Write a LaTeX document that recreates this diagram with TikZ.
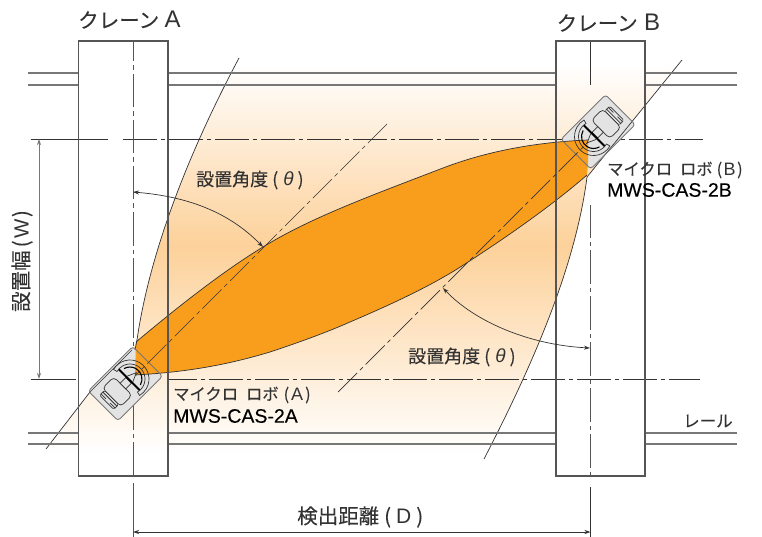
\documentclass[tikz,border=0pt]{standalone}
\usepackage{fontspec}
\setmainfont{Liberation Sans}
\newfontfamily\jp[FakeBold=0.12]{Noto Sans CJK JP}
\newfontfamily\med[FakeBold=0.25]{Liberation Sans}
\usetikzlibrary{arrows.meta}
\definecolor{beamorange}{HTML}{F99D1C}
\definecolor{beamlight}{HTML}{FDD19A}
\definecolor{inkdark}{HTML}{333333}
\definecolor{inkgrey}{HTML}{555555}
\definecolor{railgrey}{HTML}{777777}
\definecolor{plategrey}{HTML}{E3E3E3}
\tikzset{
  craneedge/.style={draw=inkgrey,line width=1.1pt},
  rail/.style={draw=railgrey,line width=1.3pt},
  hcenter/.style={draw=inkdark,line width=0.8pt,dash pattern=on 33.5pt off 4pt on 4.5pt off 4pt},
  vcenter/.style={draw=inkgrey,line width=1pt,dash pattern=on 33.5pt off 4pt on 4.5pt off 4pt,dash phase=13pt},
  diagcenter/.style={draw=inkdark,line width=0.7pt,dash pattern=on 27pt off 4pt on 4pt off 4pt},
  beamedge/.style={draw=inkdark,line width=0.7pt},
  dimline/.style={draw=inkdark,line width=0.8pt,{Stealth[length=6pt,width=4pt]}-{Stealth[length=6pt,width=4pt]}},
  anglearc/.style={draw=inkdark,line width=0.7pt,{Stealth[length=6pt,width=4pt]}-{Stealth[length=6pt,width=4pt]}},
  plateface/.style={fill=plategrey,rounded corners=3pt},
  plateedge/.style={draw=railgrey,line width=0.9pt,rounded corners=3pt},
  part/.style={draw=inkdark,line width=0.7pt,fill=plategrey},
  label/.style={inner sep=0pt,text=inkdark,anchor=west},
}
\newcommand\sensorplate{(-38,-21) rectangle (25,21)}
\newcommand\sensordetail{%
  \draw[part,rounded corners=4pt] (-26,-13) rectangle (-10,13);
  \draw[part,rounded corners=1.5pt] (-33,-10) rectangle (-26,10);
  \draw[inkdark,line width=0.8pt] (-28.5,-10) -- (-28.5,10) (-31,-10) -- (-31,-3) (-31,3) -- (-31,10);
  \draw[part] (-10,-4) rectangle (-2,4);
  \draw[black,line width=2pt] (-1,-15) -- (-1,15);
  \draw[inkdark,line width=0.7pt] (0,-4) -- (9,0) -- (0,4);
  \draw[black,line width=1.1pt] ({12*cos(75)},{-12*sin(75)}) arc[start angle=-75,end angle=75,radius=12];
  \draw[inkdark,line width=0.7pt] ({15*cos(105)},{-15*sin(105)}) arc[start angle=-105,end angle=105,radius=15]
    -- ({19*cos(105)},{19*sin(105)}) arc[start angle=105,end angle=-105,radius=19] -- cycle;
}
\begin{document}
\begin{tikzpicture}[x=1pt,y=-1pt,every node/.style={font=\fontsize{18}{20}\selectfont}]
\useasboundingbox (0,0) rectangle (762,537);
\fill[white] (0,0) rectangle (762,537);

% pale sensing zone
\begin{scope}
  \clip (239,58) .. controls (190,150) and (150,250) .. (137,340)
    -- (132,350) -- (90,392) -- (46,449) -- (46,460) -- (484,460) -- (484,459)
    .. controls (530,370) and (575,270) .. (587,177)
    -- (682,60) -- cycle;
  \foreach \yy in {64,66,...,452}{
    \pgfmathsetmacro\pct{\yy<245 ? (\yy-64)/181*100 : (452-\yy)/207*100}
    \fill[beamlight!\pct!white] (0,\yy) rectangle (762,\yy+3);
  }
\end{scope}

% horizontal centre lines
\draw[draw=inkdark,line width=0.8pt] (30.5,139) -- (108,139);
\draw[hcenter] (123,139) -- (703,139);
\draw[draw=inkdark,line width=0.8pt] (30.5,379) -- (76,379);
\draw[hcenter,dash phase=5pt] (168,379) -- (700,379);

% vertical centre lines
\coordinate (dl) at (133,532);
\coordinate (dr) at (590.5,532);
\draw[vcenter] (133,41) -- (133,476);
\draw[draw=inkgrey,line width=1pt] (133,483) -- (133,537);
\draw[draw=inkdark,line width=0.9pt] (590.5,41) -- (590.5,85);
\draw[vcenter,dash phase=1pt] (590.5,205) -- (590.5,476);
\draw[draw=inkdark,line width=0.9pt] (590.5,487) -- (590.5,537);

% sensor plates (fill)
\begin{scope}[shift={(130,379)},rotate=45,x=1pt,y=1pt]
  \fill[plateface] \sensorplate;
\end{scope}
\begin{scope}[shift={(593.5,136.5)},rotate=225,x=1pt,y=1pt]
  \fill[plateface] \sensorplate;
\end{scope}

% overlap of the two beams
\fill[beamorange] (135,375) -- (136,342)
  .. controls (180,305) and (225,270) .. (263,247)
  .. controls (310,218) and (370,196) .. (443,168)
  .. controls (490,150) and (540,142) .. (588,140)
  -- (588,163) -- (587,175)
  .. controls (555,203) and (510,235) .. (465,264)
  .. controls (430,287) and (385,307) .. (350,322)
  .. controls (325,333) and (300,342) .. (270,352)
  .. controls (230,364) and (190,372) .. (135,375)
  -- cycle;
\draw[beamedge] (136,342)
  .. controls (180,305) and (225,270) .. (263,247)
  .. controls (310,218) and (370,196) .. (443,168)
  .. controls (490,150) and (540,142) .. (588,140);
\draw[beamedge] (587,175)
  .. controls (555,203) and (510,235) .. (465,264)
  .. controls (430,287) and (385,307) .. (350,322)
  .. controls (325,333) and (300,342) .. (270,352)
  .. controls (230,364) and (190,372) .. (135,375);

% beam boundaries
\draw[beamedge] (239,58) .. controls (190,150) and (150,250) .. (137,340) -- (135,350);
\draw[beamedge] (132,350) -- (90,392) -- (46,449);
\draw[beamedge] (484,459) .. controls (530,370) and (575,270) .. (587,177);
\draw[beamedge] (587,177) -- (682,60);

% rails
\foreach \ry in {73,85,433,444}{
  \draw[rail] (28,\ry) -- (78,\ry);
  \draw[rail] (168,\ry) -- (556,\ry);
  \draw[rail] (645,\ry) -- (737,\ry);
}

% cranes
\draw[craneedge] (78.5,41) rectangle (168,476);
\draw[craneedge] (556,41) rectangle (645,476);

% sensors
\begin{scope}[shift={(130,379)},rotate=45,x=1pt,y=1pt]
  \draw[plateedge] \sensorplate;
  \sensordetail
\end{scope}
\begin{scope}[shift={(593.5,136.5)},rotate=225,x=1pt,y=1pt]
  \draw[plateedge] \sensorplate;
  \sensordetail
\end{scope}

% diagonal axes
\draw[diagcenter] (387,124) -- (136,375);
\draw[diagcenter] (338,392) -- (588,142);

% dimensions
\coordinate (wt) at (39,139);
\coordinate (wb) at (39,379);
\draw[dimline,draw=railgrey,line width=1pt] (wt) -- (wb);
\draw[dimline] (dl) -- (dr);

% angle arcs
\coordinate (aa) at (263,247);
\coordinate (ab) at (133,192);
\coordinate (ac) at (443,288);
\coordinate (ad) at (590,348);
\draw[anglearc] (aa) .. controls (225,208) and (180,196) .. (ab);
\draw[anglearc] (ac) .. controls (475,322) and (530,345) .. (ad);

% labels
\node[label,font=\fontsize{20.5}{22}\selectfont] (ca) at (78,20) {{\jp クレーン}\hspace{5.5pt}{\fontsize{24}{24}\selectfont A}};
\node[label,font=\fontsize{20.5}{22}\selectfont] (cb) at (556.5,23) {{\jp クレーン}\hspace{6.5pt}{\fontsize{24}{24}\selectfont B}};
\node[label] (th1) at (196,180) {{\jp 設置角度}\hspace{4pt}{\jp (}\hspace{5pt}{\fontsize{19}{19}\selectfont\itshape θ}\hspace{4pt}{\jp )}};
\node[label] (th2) at (408,357) {{\jp 設置角度}\hspace{4pt}{\jp (}\hspace{5pt}{\fontsize{19}{19}\selectfont\itshape θ}\hspace{4pt}{\jp )}};
\node[inner sep=0pt,text=inkdark,rotate=90,font=\fontsize{20.5}{22}\selectfont] (w) at (22,261) {{\jp 設置幅}\hspace{3pt}{\jp (}\hspace{2pt}W\hspace{2pt}{\jp )}};
\node[label,font=\fontsize{16.3}{18}\selectfont] (ra) at (173,395) {{\jp マイクロ}\hspace{8pt}{\jp ロボ}\hspace{5pt}{\jp (}\hspace{2pt}{\fontsize{18}{18}\selectfont A}\hspace{2pt}{\jp )}};
\node[label,text=black,font=\fontsize{19.5}{20}\selectfont] (ma) at (173,416) {\med MWS-CAS-2A};
\node[label,font=\fontsize{16.3}{18}\selectfont] (rb) at (607,170) {{\jp マイクロ}\hspace{8pt}{\jp ロボ}\hspace{4pt}{\jp (}\hspace{1.5pt}{\fontsize{18}{18}\selectfont B}\hspace{1.5pt}{\jp )}};
\node[label,text=black,font=\fontsize{19.5}{20}\selectfont] (mb) at (607,190) {\med MWS-CAS-2B};
\node[label,font=\fontsize{16.5}{18}\selectfont] (rl) at (683,421) {\jp レール};
\node[label,font=\fontsize{20.5}{22}\selectfont] (dd) at (297,517) {{\jp 検出距離}\hspace{5pt}{\jp (}\hspace{5pt}{\fontsize{21}{21}\selectfont D}\hspace{5pt}{\jp )}};
\end{tikzpicture}
\end{document}
